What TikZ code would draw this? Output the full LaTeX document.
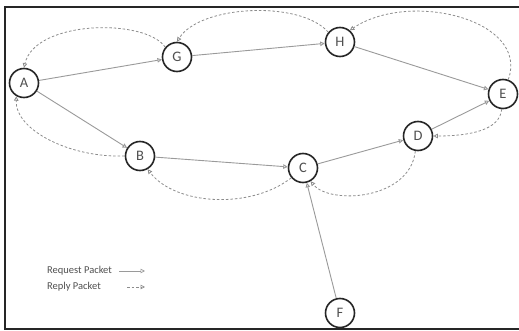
\documentclass[tikz,border=0pt]{standalone}
\usepackage{fontspec}
\setmainfont{Carlito}
\usetikzlibrary{arrows.meta}
\definecolor{linkgray}{HTML}{9A9A9A}
\definecolor{replygray}{HTML}{8C8C8C}
\definecolor{labelgray}{HTML}{505050}
\tikzset{
  peer/.style={circle, draw=black!85, line width=1.6pt, fill=white,
    minimum size=29pt, inner sep=0pt, text=labelgray,
    font=\fontsize{14.5}{14.5}\selectfont},
  tipshape/.style={-{Triangle[open, length=4.5pt, width=4.5pt]}},
  request/.style={tipshape, draw=linkgray, line width=0.9pt},
  reply/.style={tipshape, draw=replygray, line width=0.8pt, dash pattern=on 2.5pt off 2pt},
  legendtext/.style={anchor=west, text=labelgray, inner sep=0pt,
    font=\fontsize{10.5}{10.5}\selectfont}
}
\begin{document}
\begin{tikzpicture}[x=1pt, y=-1pt]
\useasboundingbox (0,0) rectangle (519,331);
\fill[white] (0,0) rectangle (519,331);
% outer frame, open on the right
\draw[line width=1.5pt, black!85] (519,7) -- (5,7) -- (5,329) -- (519,329);

% peers
\node[peer] (A) at (24,83)  {A};
\node[peer] (G) at (177,57) {G};
\node[peer] (H) at (340,42) {H};
\node[peer] (E) at (503,94) {E};
\node[peer] (D) at (418,136) {D};
\node[peer] (C) at (303,168) {C};
\node[peer] (B) at (140,156) {B};
\node[peer] (F) at (340,313) {F};

% request packets
\draw[request] (A) -- (G);
\draw[request] (A) -- (B);
\draw[request] (G) -- (H);
\draw[request] (H) -- (E);
\draw[request] (B) -- (C);
\draw[request] (C) -- (D);
\draw[request] (D) -- (E);
\draw[request] (F) -- (C);

% reply packets
\draw[reply] (G.140) .. controls (145,18) and (35,20) .. (A.north);
\draw[reply] (B.west) .. controls (70,158) and (15,130) .. (A.240);
\draw[reply] (H.140) .. controls (300,0) and (200,5) .. (G.north);
\draw[reply] (E.70) .. controls (530,20) and (410,-10) .. (H.50);
\draw[reply] (E.265) .. controls (500,130) and (470,136) .. (D.east);
\draw[reply] (D.260) .. controls (410,200) and (330,205) .. (C.-60);
\draw[reply] (C.220) .. controls (250,210) and (175,205) .. (B.-60);

% legend
\node[legendtext] (reqtext) at (47,271) {Request Packet};
\node[legendtext] (reptext) at (47,287) {Reply Packet};
\coordinate (reqa) at (119,271);
\coordinate (reqb) at (145,271);
\coordinate (repa) at (127,287);
\coordinate (repb) at (145,287);
\draw[request, line width=0.7pt] (reqa) -- (reqb);
\draw[reply, line width=0.7pt] (repa) -- (repb);
\end{tikzpicture}
\end{document}
